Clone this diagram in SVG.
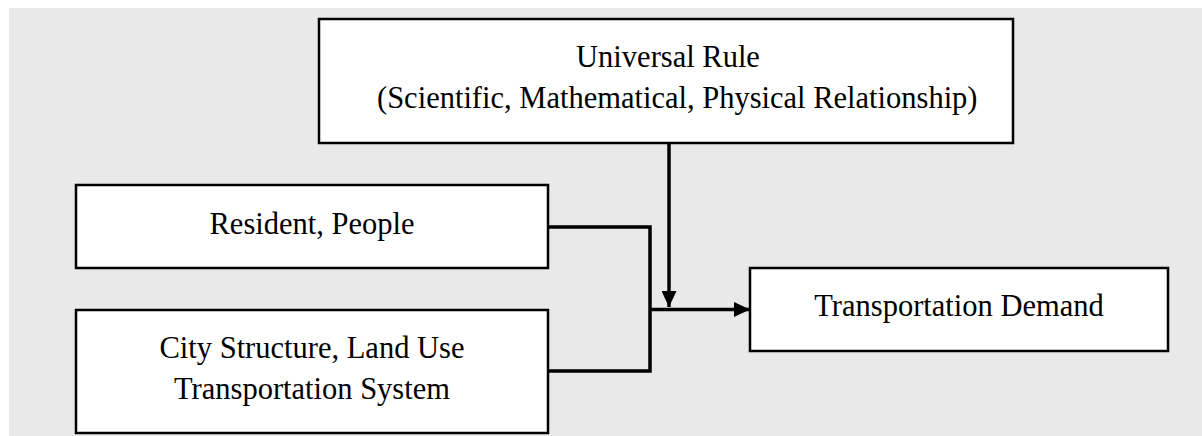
<svg xmlns="http://www.w3.org/2000/svg" width="1202" height="436" viewBox="0 0 1202 436">
  <style>
    .box { fill: #ffffff; stroke: #000000; stroke-width: 2.5; }
    .label { font-family: "Liberation Serif", "Times New Roman", serif; font-size: 30.5px; fill: #000000; }
    .mid { text-anchor: middle; }
    .wire { fill: none; stroke: #000000; stroke-width: 3.5; }
  </style>
  <defs>
    <marker id="arrow" viewBox="0 0 16 15" refX="16" refY="7.5" markerWidth="16" markerHeight="15" markerUnits="userSpaceOnUse" orient="auto">
      <path d="M0,0 L16,7.5 L0,15 Z" fill="#000000"/>
    </marker>
  </defs>

  <!-- panel background -->
  <rect x="9" y="8" width="1193" height="428" fill="#e9e9e9"/>

  <!-- connectors -->
  <g id="connectors">
    <path class="wire" d="M548,227 H650 V371 H548"/>
    <path class="wire" d="M650,309.5 H750" marker-end="url(#arrow)"/>
    <path class="wire" d="M669,143 V307" marker-end="url(#arrow)"/>
  </g>

  <g id="universal-rule">
    <rect class="box" x="319" y="19" width="694" height="124"/>
    <text class="label mid" x="668" y="67">Universal Rule</text>
    <text class="label" x="377" y="108">(Scientific, Mathematical, Physical Relationship)</text>
  </g>

  <g id="resident">
    <rect class="box" x="76" y="185" width="472" height="83"/>
    <text class="label mid" x="312" y="234">Resident, People</text>
  </g>

  <g id="city-structure">
    <rect class="box" x="76" y="310" width="472" height="123"/>
    <text class="label mid" x="312" y="358">City Structure, Land Use</text>
    <text class="label mid" x="312" y="399">Transportation System</text>
  </g>

  <g id="transportation-demand">
    <rect class="box" x="750" y="268" width="418" height="83"/>
    <text class="label mid" x="959" y="316">Transportation Demand</text>
  </g>
</svg>
